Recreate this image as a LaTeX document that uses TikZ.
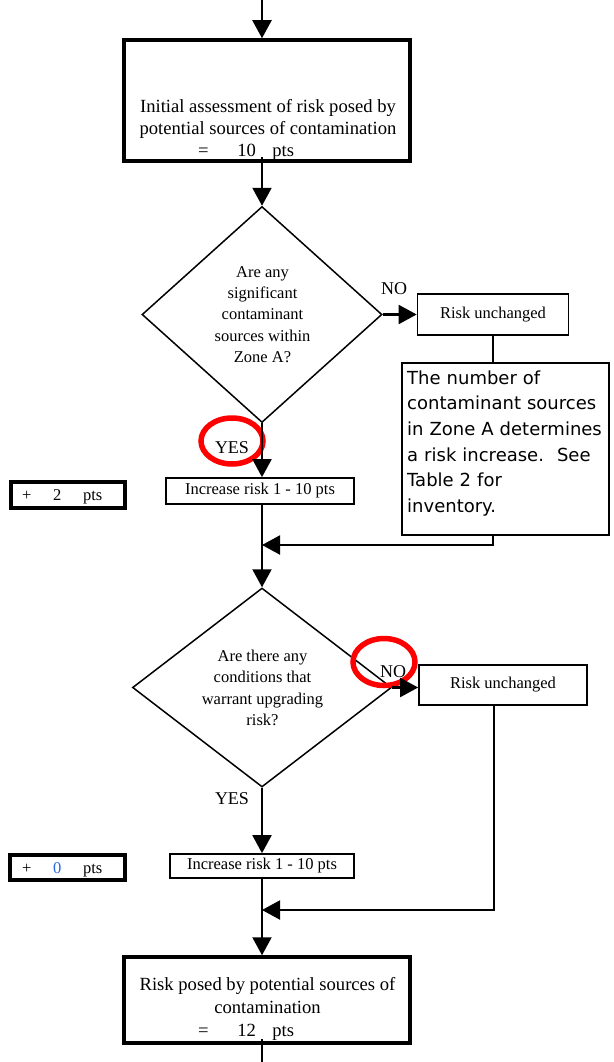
\documentclass[tikz,border=0pt]{standalone}
\usepackage{fontspec}
\setmainfont{Liberation Serif}
\newfontfamily\notefont{DejaVu Sans}
\usetikzlibrary{arrows.meta,shapes.geometric}
\definecolor{numblue}{RGB}{40,100,230}
\tikzset{
  conn/.style={line width=2.1pt},
  arr/.style={conn,-{Triangle[length=18pt,width=19pt]}},
  thickbox/.style={draw,line width=3.5pt,inner sep=0pt},
  thinbox/.style={draw,line width=1.7pt,inner sep=0pt,font=\fontsize{16.5}{20}\selectfont},
  dia/.style={draw,diamond,line width=1.5pt,inner sep=0pt},
  diatext/.style={align=center,inner sep=0pt,font=\fontsize{16.5}{21.4}\selectfont},
  bigtext/.style={align=center,inner sep=0pt,font=\fontsize{18.6}{22.5}\selectfont},
  smalltext/.style={inner sep=0pt,font=\fontsize{16.5}{20}\selectfont},
  lbl/.style={inner sep=0pt,font=\fontsize{18}{20}\selectfont},
  notetext/.style={inner sep=0pt,align=left,text width=205pt,font=\notefont\fontsize{18}{25.6}\selectfont},
  redring/.style={draw=red,line width=5.5pt,ellipse,inner sep=0pt},
}
\begin{document}
\begin{tikzpicture}[x=1pt,y=-1pt]
\useasboundingbox (0,0) rectangle (613,1062);
% coordinates of free ends / junctions
\coordinate (top) at (262,0);
\coordinate (j1) at (262,545);
\coordinate (j2) at (262,910);
\coordinate (bottom) at (262,1062);

% box 1
\node[thickbox,minimum width=286pt,minimum height=121pt] (box1) at (267,100.5) {};
\node[bigtext,anchor=base] (box1t) at (268,135) {Initial assessment of risk posed by\\potential sources of contamination};
\node[bigtext,anchor=base west] (box1n) at (198,157) {=\hspace{28.6pt}10\hspace{16.5pt}pts};

% diamond 1
\node[dia,minimum width=240pt,minimum height=216pt] (d1) at (262,314.5) {};
\node[diatext] (d1t) at (262.5,314.5) {Are any\\significant\\contaminant\\sources within\\Zone A?};

% risk unchanged 1 and note
\node[thinbox,minimum width=151pt,minimum height=41pt] (risk1) at (493,314.5) {Risk unchanged};
\node[draw,line width=1.7pt,inner sep=0pt,minimum width=207pt,minimum height=172pt] (note) at (505.5,449) {};
\node[notetext,anchor=north west] (notet) at (407,370.5) {The number of\\contaminant sources\\in Zone A determines\\a risk increase.\hspace{13pt}See\\Table 2 for\\inventory.};

% labels diamond 1
\node[lbl,anchor=base] (no1) at (394,294) {NO};
\node[lbl,anchor=base] (yes1) at (232,453) {YES};
\node[redring,minimum width=62pt,minimum height=46pt] (ring1) at (232,441) {};

% increase 1 and plus box 1
\node[thinbox,minimum width=188pt,minimum height=26pt] (inc1) at (260,491) {Increase risk 1 - 10 pts};
\node[thickbox,minimum width=114pt,minimum height=26pt] (plus1) at (68,495) {};
\node[smalltext,anchor=base west] (plus1t) at (22,500.5) {+\hspace{21.7pt}2\hspace{21.7pt}pts};

% diamond 2
\node[dia,minimum width=259pt,minimum height=199pt] (d2) at (262,687.5) {};
\node[diatext] (d2t) at (262.5,688) {Are there any\\conditions that\\warrant upgrading\\risk?};

\node[thinbox,minimum width=168pt,minimum height=40pt] (risk2) at (503,685) {Risk unchanged};
\node[lbl,anchor=base] (no2) at (393,677) {NO};
\node[redring,minimum width=62pt,minimum height=47pt] (ring2) at (384,662) {};
\node[lbl,anchor=base] (yes2) at (232,804) {YES};

% increase 2 and plus box 2
\node[thinbox,minimum width=184pt,minimum height=24pt] (inc2) at (262,866) {Increase risk 1 - 10 pts};
\node[thickbox,minimum width=115pt,minimum height=25pt] (plus2) at (67.5,867.5) {};
\node[smalltext,anchor=base west] (plus2t) at (22,873) {+\hspace{21.7pt}\textcolor{numblue}{0}\hspace{21.7pt}pts};

% final box
\node[thickbox,minimum width=286pt,minimum height=86pt] (final) at (267,1000) {};
\node[bigtext,anchor=base] (finalt) at (267.5,1013) {Risk posed by potential sources of\\contamination};
\node[bigtext,anchor=base west] (finaln) at (198,1036) {=\hspace{28.6pt}12\hspace{16.5pt}pts};

% connectors
\draw[arr] (top) -- (top |- box1.north);
\draw[arr] ([yshift=6pt]box1.south -| d1.north) -- (d1.north);
\draw[arr] (d1.east) -- (d1.east -| risk1.west);
\draw[conn] (risk1.south) -- (risk1.south |- note.north);
\draw[arr] (d1.south) -- (d1.south |- inc1.north);
\draw[conn] (inc1.south -| d2.north) -- (j1);
\draw[arr] (j1) -- (d2.north);
\draw[arr] (note.south -| risk1.south) |- (j1);
\draw[arr] (d2.east) -- (d2.east -| risk2.west);
\draw[arr] (d2.south) -- (d2.south |- inc2.north);
\draw[arr] ([xshift=-9pt]risk2.south) |- (j2);
\draw[conn] (inc2.south) -- (j2);
\draw[arr] (j2) -- (j2 |- final.north);
\draw[conn] ([yshift=6pt]final.south -| bottom) -- (bottom);
\end{tikzpicture}
\end{document}
